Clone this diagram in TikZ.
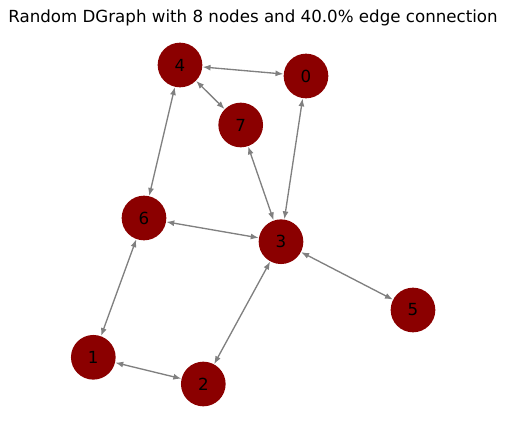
\documentclass[tikz,border=0pt]{standalone}
\usepackage{fontspec}
\setmainfont{DejaVu Sans}
\usetikzlibrary{arrows.meta}
\definecolor{nodered}{HTML}{8B0000}
\definecolor{edgegray}{HTML}{808080}
\begin{document}
\begin{tikzpicture}[x=0.75pt,y=-0.75pt,
  vtx/.style={circle,fill=nodered,draw=none,minimum size=33.5pt,inner sep=0pt,font=\fontsize{12.5}{14}\selectfont},
  edge/.style={draw=edgegray,line width=1pt,{-{Latex[length=6pt,width=4.5pt]}},shorten >=0.5pt},
  bidir/.style={draw=edgegray,line width=1pt,{{Latex[length=6pt,width=4.5pt]}-{Latex[length=6pt,width=4.5pt]}}}]
\useasboundingbox (0,0) rectangle (506,427);
\node[font=\fontsize{12.5}{14}\selectfont] (title) at (253,18) {Random DGraph with 8 nodes and 40.0\% edge connection};
\node[vtx] (n4) at (180,65) {4};
\node[vtx] (n0) at (306,76) {0};
\node[vtx] (n7) at (240.7,125) {7};
\node[vtx] (n6) at (144,218) {6};
\node[vtx] (n3) at (281,241.7) {3};
\node[vtx] (n5) at (413,310) {5};
\node[vtx] (n1) at (93.3,357.3) {1};
\node[vtx] (n2) at (203.3,384) {2};
\draw[bidir] (n4) -- (n0);
\draw[bidir] (n4) -- (n7);
\draw[bidir] (n4) -- (n6);
\draw[bidir] (n0) -- (n3);
\draw[bidir] (n7) -- (n3);
\draw[bidir] (n6) -- (n3);
\draw[bidir] (n6) -- (n1);
\draw[bidir] (n3) -- (n2);
\draw[bidir] (n3) -- (n5);
\draw[bidir] (n1) -- (n2);
\end{tikzpicture}
\end{document}
